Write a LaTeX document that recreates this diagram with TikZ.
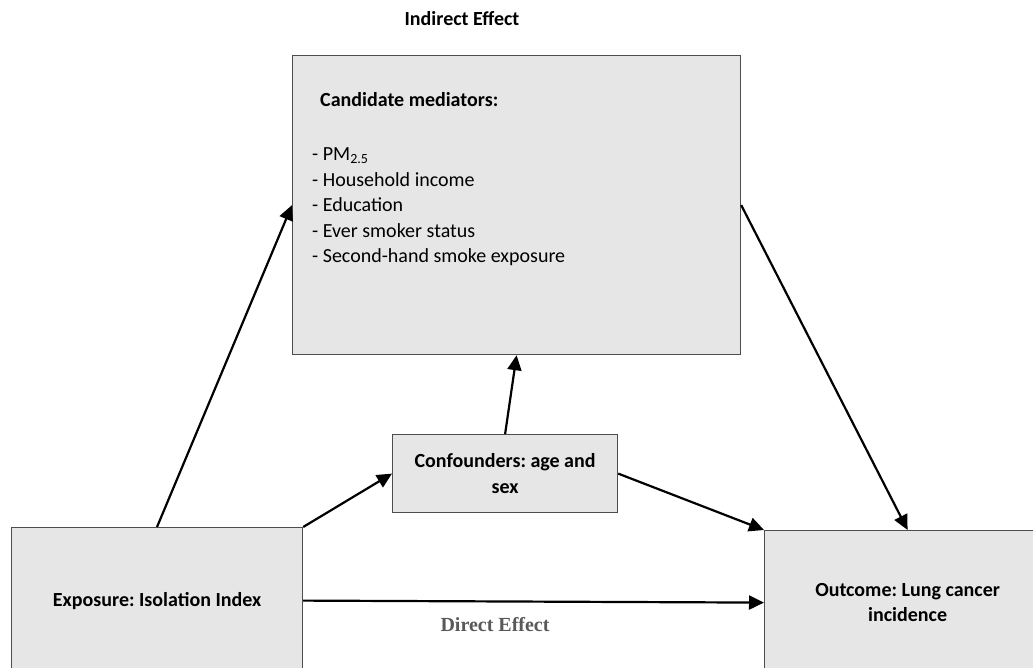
\documentclass[tikz,border=0pt]{standalone}
\usepackage{fontspec}
\setmainfont{Carlito}
\newfontfamily\serifbold{Liberation Serif}[BoldFont={Liberation Serif Bold}]
\usetikzlibrary{arrows.meta,calc}
\definecolor{boxfill}{HTML}{E6E6E6}
\definecolor{boxline}{HTML}{4D4D4D}
\definecolor{labelgray}{HTML}{595959}
\frenchspacing
\begin{document}
\begin{tikzpicture}[x=1pt,y=-1pt,
  box/.style={draw=boxline, fill=boxfill, line width=1.2pt, inner sep=0pt,
              anchor=north west, align=center,
              font=\fontsize{20}{25.6}\selectfont\bfseries},
  conn/.style={line width=2.2pt, -{Triangle[length=15pt,width=14pt]}},
  txt/.style={inner sep=0pt, font=\fontsize{20}{25.6}\selectfont}
]
\useasboundingbox (0,0) rectangle (1033,668);
\clip (0,0) rectangle (1033,668);

% boxes
\node[box, minimum width=448pt, minimum height=299pt] (med) at (292,55) {};
\node[box, minimum width=225pt, minimum height=78pt] (conf) at (392,434)
  {Confounders: age and\\sex};
\node[box, minimum width=291pt, minimum height=146pt] (expo) at (11,527)
  {Exposure: Isolation Index};
\node[box, minimum width=286pt, minimum height=144pt] (outc) at (764,530)
  {Outcome: Lung cancer\\incidence};

% mediator box contents (list anchored on the baseline of its last line)
\node[txt, anchor=base west, font=\fontsize{20}{25.6}\selectfont\bfseries] (medhead) at (320,107)
  {Candidate mediators:};
\node[txt, anchor=base west, align=left] (medlist) at (312,263)
  {- PM\textsubscript{2.5}\\
   - Household income\\
   - Education\\
   - Ever smoker status\\
   - Second-hand smoke exposure};

% effect labels
\node[txt, font=\fontsize{20}{24}\selectfont\bfseries] (indirect) at (462,19) {Indirect Effect};
\node[txt, text=labelgray, font=\fontsize{20}{24}\serifbold\bfseries] (direct) at (495,625) {Direct Effect};

% connectors
\draw[conn] ([xshift=146pt]expo.north west) -- (med.west);
\draw[conn] (med.east) -- (outc.north);
\draw[conn] (conf.north) -- (med.south);
\draw[conn] (expo.north east) -- (conf.west);
\draw[conn] (conf.east) -- (outc.north west);
\draw[conn] (expo.east) -- (outc.west);
\end{tikzpicture}
\end{document}
